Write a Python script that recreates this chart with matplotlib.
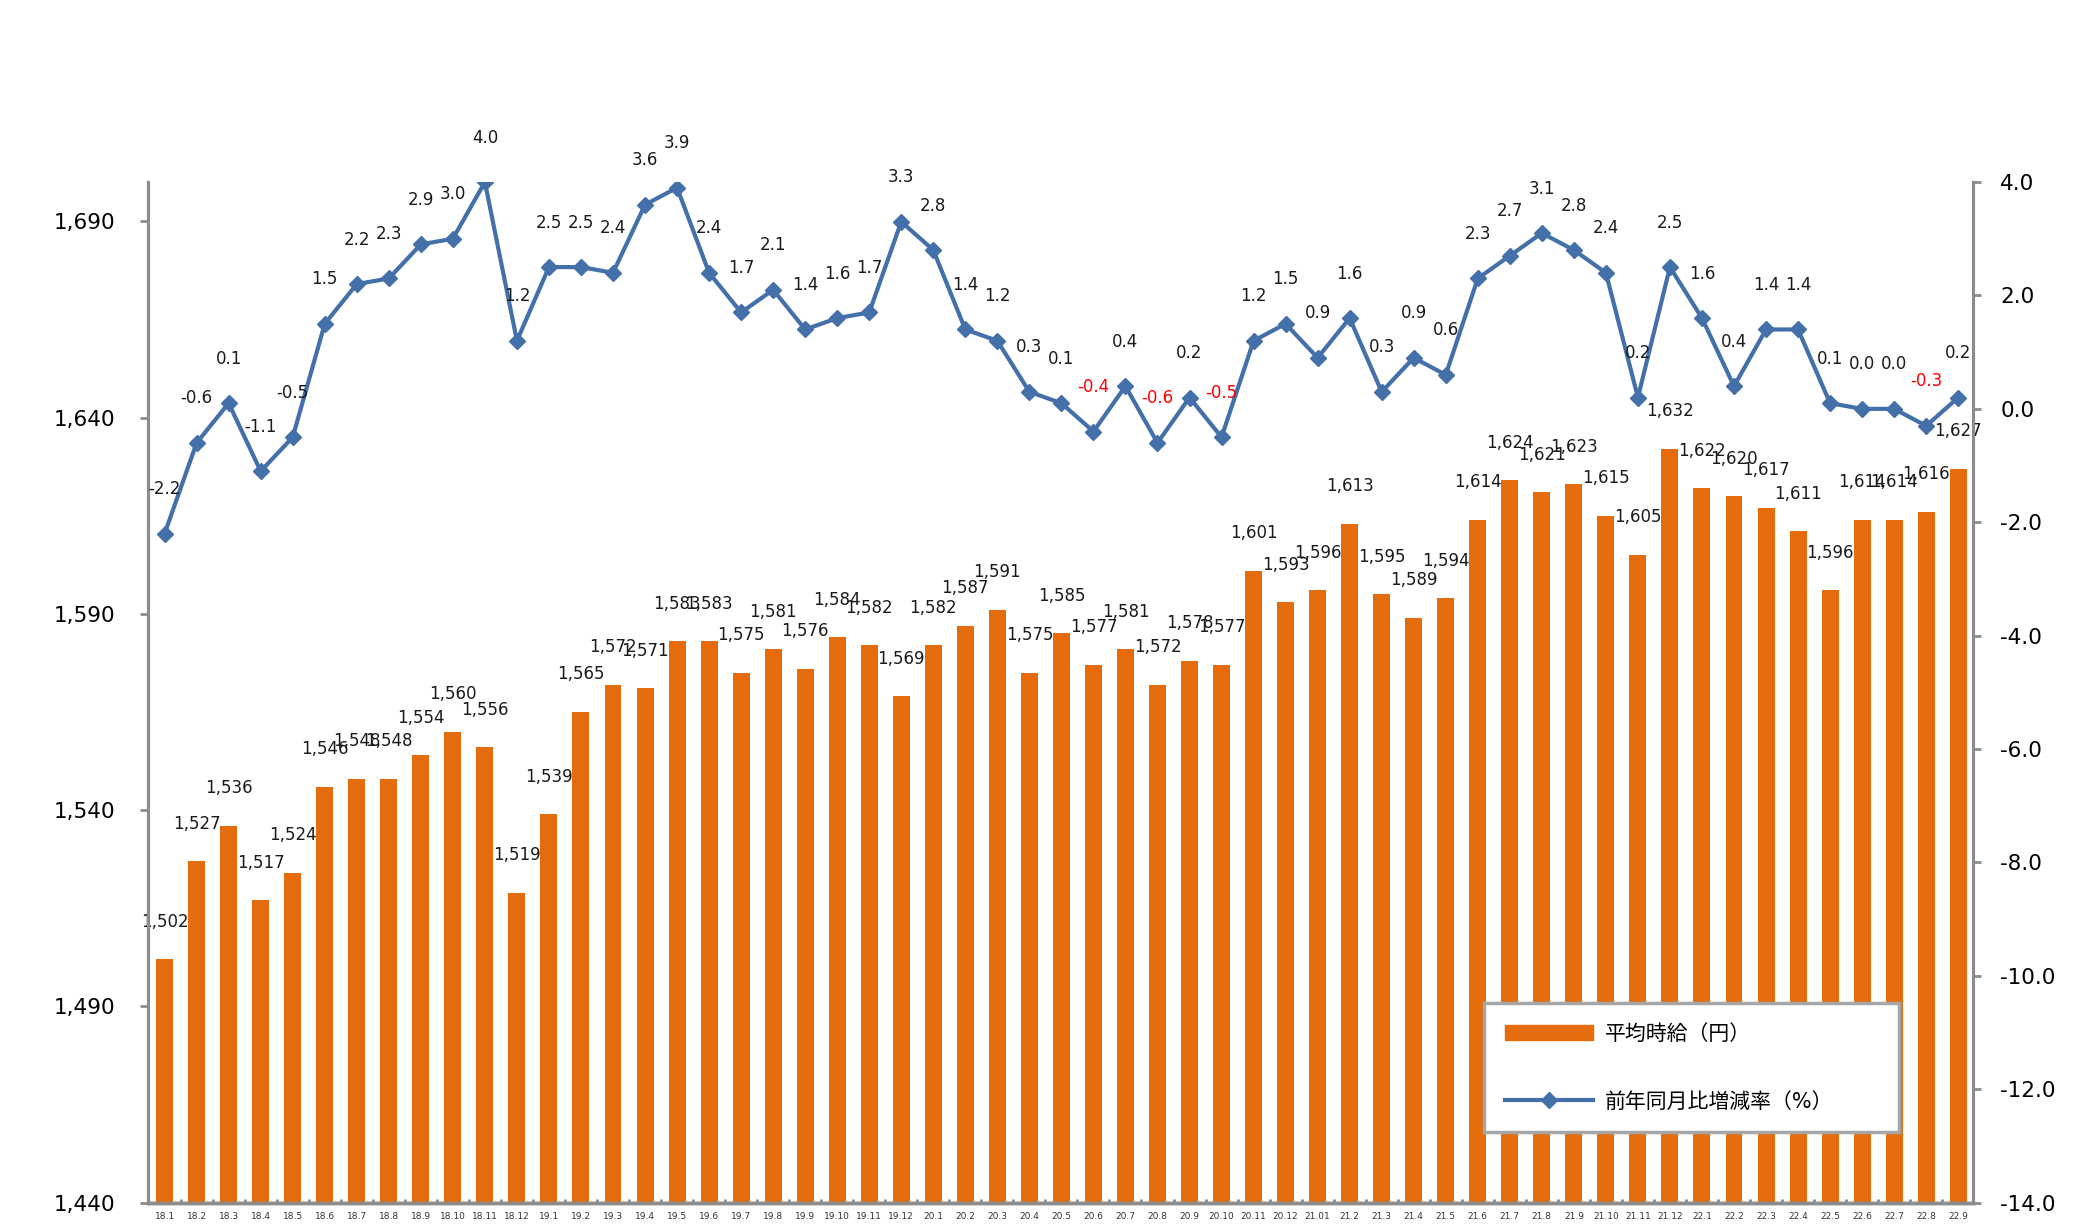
import numpy as np
import matplotlib.pyplot as plt
from matplotlib.ticker import FuncFormatter
from matplotlib.patches import Patch
from matplotlib.lines import Line2D

plt.rcParams['font.family'] = ['DejaVu Sans', 'Noto Sans CJK JP']

# months 2018.1 - 2022.9
months = ['18.1', '18.2', '18.3', '18.4', '18.5', '18.6', '18.7', '18.8', '18.9', '18.10', '18.11', '18.12',
          '19.1', '19.2', '19.3', '19.4', '19.5', '19.6', '19.7', '19.8', '19.9', '19.10', '19.11', '19.12',
          '20.1', '20.2', '20.3', '20.4', '20.5', '20.6', '20.7', '20.8', '20.9', '20.10', '20.11', '20.12',
          '21.01', '21.2', '21.3', '21.4', '21.5', '21.6', '21.7', '21.8', '21.9', '21.10', '21.11', '21.12',
          '22.1', '22.2', '22.3', '22.4', '22.5', '22.6', '22.7', '22.8', '22.9']

# average hourly wage (yen)
wage = [1502, 1527, 1536, 1517, 1524, 1546, 1548, 1548, 1554, 1560, 1556, 1519,
        1539, 1565, 1572, 1571, 1583, 1583, 1575, 1581, 1576, 1584, 1582, 1569,
        1582, 1587, 1591, 1575, 1585, 1577, 1581, 1572, 1578, 1577, 1601, 1593,
        1596, 1613, 1595, 1589, 1594, 1614, 1624, 1621, 1623, 1615, 1605, 1632,
        1622, 1620, 1617, 1611, 1596, 1614, 1614, 1616, 1627]

# year-on-year change (%)
yoy = [-2.2, -0.6, 0.1, -1.1, -0.5, 1.5, 2.2, 2.3, 2.9, 3.0, 4.0, 1.2,
       2.5, 2.5, 2.4, 3.6, 3.9, 2.4, 1.7, 2.1, 1.4, 1.6, 1.7, 3.3,
       2.8, 1.4, 1.2, 0.3, 0.1, -0.4, 0.4, -0.6, 0.2, -0.5, 1.2, 1.5,
       0.9, 1.6, 0.3, 0.9, 0.6, 2.3, 2.7, 3.1, 2.8, 2.4, 0.2, 2.5,
       1.6, 0.4, 1.4, 1.4, 0.1, 0.0, 0.0, -0.3, 0.2]

red_labels = ['20.6', '20.8', '20.10', '22.8']

bar_clr = '#E46C0A'
line_clr = '#4470AA'
axis_clr = '#8C8C8C'

fig = plt.figure(figsize=(20.76, 12.3), dpi=100)
ax = fig.add_axes([0.0715, 0.0222, 0.8787, 0.8298])
ax2 = ax.twinx()

x = np.arange(len(months))
ax.bar(x, wage, width=0.53, color=bar_clr, zorder=2)
ax2.plot(x, yoy, color=line_clr, lw=3, marker='D', ms=8, zorder=3)

for i, v in enumerate(wage):
    ax.annotate(f'{v:,}', (i, v), xytext=(0, 27), textcoords='offset points',
                ha='center', va='center', fontsize=12, color='#1a1a1a')

for i, v in enumerate(yoy):
    c = 'red' if months[i] in red_labels else '#1a1a1a'
    ax2.annotate(f'{v:.1f}', (i, v), xytext=(0, 32), textcoords='offset points',
                 ha='center', va='center', fontsize=12, color=c)

ax.set_xlim(-0.505, 56.45)
ax.set_ylim(1440, 1700)
ax.set_yticks([1440, 1490, 1540, 1590, 1640, 1690])
ax.yaxis.set_major_formatter(FuncFormatter(lambda v, p: f'{int(v):,}'))
ax2.set_ylim(-14, 4)
ax2.set_yticks(np.arange(-14, 4.1, 2))
ax2.yaxis.set_major_formatter(FuncFormatter(lambda v, p: f'{v:.1f}'))

ax.set_xticks(x)
ax.set_xticklabels(months, fontsize=6.5, color='#333333')
ax.set_xticks(x[:-1] + 0.5, minor=True)
ax.tick_params(axis='x', which='major', length=0, pad=7)
ax.tick_params(axis='x', which='minor', direction='in', length=3, width=2, color=axis_clr)
ax.tick_params(axis='y', length=6, width=2, color=axis_clr, labelsize=15.5, pad=18)
ax2.tick_params(axis='y', length=6, width=2, color=axis_clr, labelsize=15.5, pad=14)

for a in (ax, ax2):
    a.spines['top'].set_visible(False)
    a.spines['left'].set_color(axis_clr)
    a.spines['right'].set_color(axis_clr)
    a.spines['bottom'].set_color(axis_clr)
    a.spines['left'].set_linewidth(2.2)
    a.spines['right'].set_linewidth(2.2)
    a.spines['bottom'].set_linewidth(2.5)

handles = [Patch(facecolor=bar_clr, edgecolor=bar_clr),
           Line2D([0], [0], color=line_clr, lw=3, marker='D', ms=8)]
leg = ax2.legend(handles, ['平均時給（円）', '前年同月比増減率（%）'],
                 loc='lower left', bbox_to_anchor=(0.710, 0.071, 0.2098, 0.115),
                 bbox_transform=fig.transFigure, mode='expand',
                 fontsize=15, handlelength=4.2, handletextpad=0.6, labelspacing=2.3,
                 borderpad=1.0, fancybox=False, framealpha=1)
leg.get_frame().set_edgecolor('#A6A6A6')
leg.get_frame().set_linewidth(2.5)
leg.set_zorder(10)

fig.savefig('out.png', dpi=100)
